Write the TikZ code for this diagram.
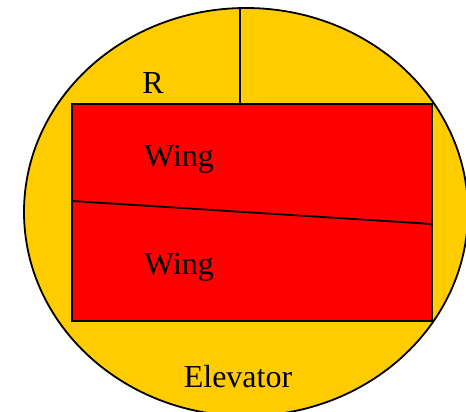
\documentclass[tikz,border=0pt]{standalone}
\usepackage{fontspec}
\setmainfont{Liberation Serif}
\usepackage{tikz}
\definecolor{elevfill}{RGB}{255,204,0}
\definecolor{wingfill}{RGB}{255,0,0}

\begin{document}
\begin{tikzpicture}[
  x=0.5pt,y=-0.5pt,
  outline/.style={draw=black,line width=0.9pt},
  label/.style={inner sep=0pt,anchor=base,font=\fontsize{16}{19}\selectfont},
]
\clip (0,0) rectangle (466,412);
\path[outline,fill=elevfill] (246,212) ellipse [x radius=222,y radius=204];
\path[outline,fill=wingfill] (72,104) rectangle (432,321);

\coordinate (stab top) at (240,8);
\coordinate (stab foot) at (240,104);
\coordinate (split left) at (72,201);
\coordinate (split right) at (432,224);
\draw[outline] (stab top) -- (stab foot);
\draw[outline] (split left) -- (split right);

\node[label] (rudder) at (153,93) {R};
\node[label] (wing upper) at (179,166) {Wing};
\node[label] (wing lower) at (179,274) {Wing};
\node[label] (elevator) at (238,387) {Elevator};
\end{tikzpicture}
\end{document}
